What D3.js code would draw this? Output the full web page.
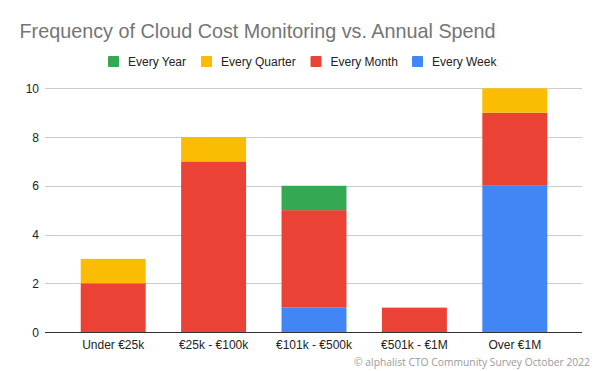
<!DOCTYPE html>
<html><head><meta charset="utf-8">
<script src="https://cdn.jsdelivr.net/npm/d3@7"></script>
<style>body{margin:0;background:#fff}svg{display:block}</style>
</head><body>
<svg id="c" width="600" height="371"></svg>
<script>
const categories = ["Under €25k", "€25k - €100k", "€101k - €500k", "€501k - €1M", "Over €1M"];
const everyWeek    = [0, 0, 1, 0, 6];
const everyMonth   = [2, 7, 4, 1, 3];
const everyQuarter = [1, 1, 0, 0, 1];
const everyYear    = [0, 0, 1, 0, 0];
const seriesNames  = ["Every Week", "Every Month", "Every Quarter", "Every Year"];
const seriesColors = ["#4285F4", "#EA4335", "#FBBC04", "#34A853"];
const yTicks = [0, 2, 4, 6, 8, 10];
const title = "Frequency of Cloud Cost Monitoring vs. Annual Spend";
const caption = "© alphalist CTO Community Survey October 2022";

const svg = d3.select("#c");
const font = "'Liberation Sans', Arial, sans-serif";

const rows = categories.map((c, i) => ({
  cat: c,
  "Every Week": everyWeek[i],
  "Every Month": everyMonth[i],
  "Every Quarter": everyQuarter[i],
  "Every Year": everyYear[i]
}));
const stack = d3.stack().keys(seriesNames)(rows);

const x = d3.scaleBand().domain(categories).range([63, 565]).paddingInner(0.353).paddingOuter(0.1765);
const y = d3.scaleLinear().domain([0, 10]).range([332, 88.3]);

// gridlines
svg.append("g").selectAll("line").data(yTicks.filter(t => t > 0)).join("line")
  .attr("x1", 45).attr("x2", 582)
  .attr("y1", d => Math.round(y(d)) + 0.5).attr("y2", d => Math.round(y(d)) + 0.5)
  .attr("stroke", "#cccccc").attr("stroke-width", 1);

// y tick labels
svg.append("g").selectAll("text").data(yTicks).join("text")
  .attr("x", 39).attr("y", d => y(d) + 4.5)
  .attr("text-anchor", "end").attr("font-family", font).attr("font-size", 12)
  .attr("fill", "#222").text(d => d);

// bars
svg.append("g").selectAll("g").data(stack).join("g")
  .attr("fill", (d, i) => seriesColors[i])
  .selectAll("rect").data(d => d).join("rect")
  .attr("x", d => x(d.data.cat))
  .attr("width", x.bandwidth())
  .attr("y", d => y(d[1]))
  .attr("height", d => y(d[0]) - y(d[1]));

// baseline
svg.append("line").attr("x1", 45).attr("x2", 582).attr("y1", 332.5).attr("y2", 332.5)
  .attr("stroke", "#333").attr("stroke-width", 1);

// x labels
svg.append("g").selectAll("text").data(categories).join("text")
  .attr("x", d => x(d) + x.bandwidth() / 2).attr("y", 348.5)
  .attr("text-anchor", "middle").attr("font-family", font).attr("font-size", 12)
  .attr("fill", "#222").text(d => d);

// title
svg.append("text").attr("x", 19.5).attr("y", 37.7)
  .attr("font-family", font).attr("font-size", 19.8).attr("fill", "#757575").text(title);

// legend
const legendOrder = [3, 2, 1, 0];
const legendX = [108, 201, 310.5, 412];
const lg = svg.append("g").selectAll("g").data(legendOrder).join("g")
  .attr("transform", (d, i) => `translate(${legendX[i]},0)`);
lg.append("rect").attr("x", 0).attr("y", 56).attr("width", 11).attr("height", 11)
  .attr("rx", 1).attr("fill", d => seriesColors[d]);
lg.append("text").attr("x", 20).attr("y", 65.8)
  .attr("font-family", font).attr("font-size", 12).attr("fill", "#222")
  .text(d => seriesNames[d]);

// caption
svg.append("text").attr("x", 590).attr("y", 365.5).attr("text-anchor", "end")
  .attr("font-family", "'Open Sans', sans-serif").attr("font-size", 10.3).attr("fill", "#9a9a9a")
  .text(caption);
</script>
</body></html>
